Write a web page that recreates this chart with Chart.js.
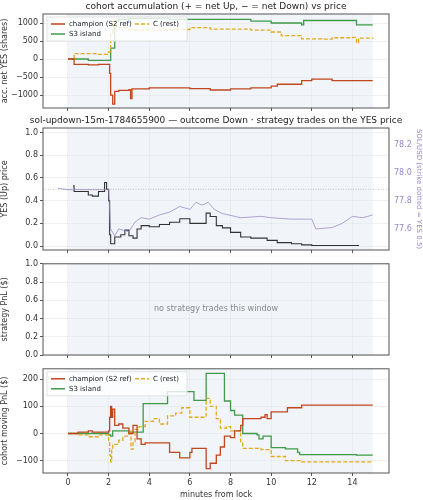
<!DOCTYPE html>
<html><head><meta charset="utf-8">
<script src="https://cdn.jsdelivr.net/npm/chart.js@4/dist/chart.umd.min.js"></script>
<style>
body{margin:0;background:#fff;width:423px;height:500px;position:relative;overflow:hidden}
canvas{position:absolute;left:0}
</style></head><body>
<canvas id="c1" style="top:0"></canvas>
<canvas id="c2" style="top:112px"></canvas>
<canvas id="c3" style="top:257px"></canvas>
<canvas id="c4" style="top:362px"></canvas>
<script>
// datos
const xTicks = [0, 2, 4, 6, 8, 10, 12, 14];

// acumulación (acciones YES netas)
const accChampT = [0, 0.3, 1.0, 1.5, 2.0, 2.05, 2.1, 2.2, 2.3, 2.5, 3.0, 3.08, 3.15, 4, 6, 7, 8, 9, 10, 10.3, 11.5, 12, 13, 15];
const accChampV = [0, -150, -160, -150, -150, -400, -1000, -1250, -900, -870, -850, -1100, -830, -800, -820, -860, -830, -800, -750, -700, -600, -560, -600, -600];
const accCT = [0, 0.3, 1.5, 2.0, 2.1, 2.2, 2.3, 2.5, 3, 5, 6, 7, 9, 10, 10.5, 11.5, 12.5, 13, 14, 14.2, 14.3, 15];
const accCV = [0, 150, 130, 200, 700, 1050, 900, 870, 800, 820, 870, 830, 800, 750, 650, 560, 550, 590, 600, 450, 580, 600];
const accS3T = [0, 1, 2.0, 2.1, 2.3, 2.5, 3, 5, 9, 10, 11.5, 11.6, 14, 14.2, 15];
const accS3V = [0, -40, -40, 300, 1050, 1100, 1130, 1100, 1050, 1000, 950, 1070, 1070, 950, 950];

// precio YES y SOL/USD
const yesT = [0.25, 0.3, 1.0, 1.2, 1.5, 1.8, 1.9, 2.0, 2.05, 2.1, 2.3, 2.6, 2.8, 3.0, 3.2, 3.4, 3.6, 4.0, 4.5, 5.0, 5.5, 6.0, 6.8, 7.0, 7.3, 7.6, 8.0, 8.5, 9.0, 9.8, 10.3, 11, 11.5, 12, 14.3];
const yesV = [0.53, 0.48, 0.45, 0.44, 0.48, 0.56, 0.50, 0.40, 0.10, 0.02, 0.08, 0.10, 0.14, 0.09, 0.07, 0.15, 0.18, 0.17, 0.19, 0.21, 0.24, 0.20, 0.29, 0.26, 0.18, 0.16, 0.12, 0.08, 0.07, 0.05, 0.03, 0.02, 0.01, 0.005, 0.0];
const solT = [-0.5, 0, 1, 2, 2.1, 2.3, 2.5, 3, 3.3, 3.6, 4, 4.5, 5.0, 5.5, 6.0, 6.3, 6.6, 6.9, 7.2, 7.6, 8.5, 9.5, 10, 11, 12, 12.2, 13, 13.5, 14, 14.5, 15];
const solV = [77.89, 77.88, 77.88, 77.88, 77.60, 77.55, 77.60, 77.58, 77.65, 77.68, 77.67, 77.70, 77.72, 77.76, 77.74, 77.79, 77.77, 77.79, 77.74, 77.71, 77.68, 77.69, 77.68, 77.67, 77.67, 77.60, 77.61, 77.64, 77.69, 77.68, 77.70];

// PnL móvil por cohorte
const pnlChampT = [0, 0.5, 1, 1.2, 2.0, 2.05, 2.1, 2.15, 2.2, 2.3, 2.5, 2.7, 3, 3.2, 3.4, 3.6, 3.8, 5, 5.5, 6, 6.1, 6.8, 7, 7.3, 7.5, 7.7, 8, 8.2, 8.5, 8.6, 9.5, 9.7, 9.8, 10, 10.8, 11.5, 15];
const pnlChampV = [0, 5, 10, 5, 10, 60, 100, 60, 90, 30, 35, 20, 0, 30, -20, -40, -35, -70, -90, -70, -55, -130, -110, -80, -50, -10, -15, 10, 30, 55, 60, 70, 55, 80, 95, 105, 105];
const pnlS3T = [0, 2, 2.1, 2.2, 3, 3.7, 4.9, 6.2, 6.8, 7.7, 8, 8.2, 8.6, 9.3, 9.4, 9.6, 10, 10.7, 11.3, 11.4, 14, 14.2, 15];
const pnlS3V = [0, -5, -10, 10, 5, 110, 155, 122, 222, 120, 85, 68, 0, -5, -20, -10, -52, -57, -70, -78, -78, -80, -80];
const pnlCT = [0, 0.5, 1, 1.5, 2, 2.05, 2.1, 2.15, 2.2, 2.5, 2.7, 3, 3.1, 3.2, 3.3, 3.5, 3.8, 4.2, 4.5, 4.9, 5.3, 5.6, 6.0, 6.8, 7.0, 7.3, 7.5, 7.8, 8.0, 8.5, 8.6, 9.5, 10, 10.7, 11.5, 15];
const pnlCV = [0, -5, -12, -5, -30, -80, -105, -60, -40, -25, -10, 10, -58, -30, 15, 25, 45, 55, 35, 65, 75, 95, 60, 130, 100, 55, 20, 25, 10, -30, -55, -60, -85, -100, -105, -105];

const RED = '#c0461e', GREEN = '#3f9a4a', GOLD = '#e3aa1c', PURPLE = '#9a86c8';
const FONT = 'DejaVu Sans';
Chart.defaults.font.family = FONT;
Chart.defaults.font.size = 8;
Chart.defaults.color = '#333';
Chart.defaults.animation = false;

const pts = (t, v) => t.map((x, i) => ({ x: x, y: v[i] }));

// fondo sombreado 0..15 y marco
const framePlugin = {
  id: 'frame',
  beforeDatasetsDraw(chart) {
    const { ctx, chartArea: a, scales: { x } } = chart;
    ctx.save();
    ctx.fillStyle = 'rgba(225,230,242,0.45)';
    const x0 = x.getPixelForValue(0), x1 = x.getPixelForValue(15);
    ctx.fillRect(x0, a.top, x1 - x0, a.bottom - a.top);
    ctx.restore();
  },
  afterDraw(chart) {
    const { ctx, chartArea: a } = chart;
    ctx.save();
    ctx.strokeStyle = '#555';
    ctx.lineWidth = 1;
    ctx.strokeRect(a.left, a.top, a.right - a.left, a.bottom - a.top);
    const o = chart.options.plugins.extra || {};
    if (o.title) {
      ctx.fillStyle = '#222';
      ctx.font = (o.titleSize || 9) + 'px ' + FONT;
      ctx.textAlign = 'center';
      ctx.textBaseline = 'middle';
      ctx.fillText(o.title, o.titleX || (a.left + a.right) / 2, o.titleY);
    }
    if (o.note) {
      ctx.fillStyle = '#888';
      ctx.font = '8px ' + FONT;
      ctx.textAlign = 'center';
      ctx.textBaseline = 'middle';
      ctx.fillText(o.note, (a.left + a.right) / 2, (a.top + a.bottom) / 2);
    }
    if (o.legend) {
      const L = a.left + 4, T = a.top + 3;
      ctx.fillStyle = 'rgba(255,255,255,0.8)';
      ctx.fillRect(L, T, 140, 24);
      ctx.strokeStyle = '#e2e2e2';
      ctx.strokeRect(L, T, 140, 24);
      const items = [
        ['champion (S2 ref)', RED, [], L + 4, T + 7],
        ['C (rest)', GOLD, [4, 2], L + 88, T + 7],
        ['S3 island', GREEN, [], L + 4, T + 17]
      ];
      ctx.font = '7px ' + FONT;
      ctx.textAlign = 'left';
      ctx.textBaseline = 'middle';
      items.forEach(([lbl, col, dash, x, y]) => {
        ctx.strokeStyle = col;
        ctx.lineWidth = 1.5;
        ctx.setLineDash(dash);
        ctx.beginPath(); ctx.moveTo(x, y); ctx.lineTo(x + 14, y); ctx.stroke();
        ctx.setLineDash([]);
        ctx.fillStyle = '#222';
        ctx.fillText(lbl, x + 18, y);
      });
    }
    ctx.restore();
  }
};

const series = (t, v, col, dash, axis) => ({
  data: pts(t, v), borderColor: col, borderWidth: 1.3, borderDash: dash || [],
  stepped: 'before', pointRadius: 0, yAxisID: axis || 'y'
});

function build(id, h, cfg) {
  const cv = document.getElementById(id);
  cv.width = 423; cv.height = h;
  cv.style.width = '423px'; cv.style.height = h + 'px';
  const scales = {
    x: {
      type: 'linear', min: -1.23, max: 15.8,
      afterBuildTicks: s => { s.ticks = xTicks.map(v => ({ value: v })); },
      afterFit: s => { s.height = cfg.xh; },
      grid: { color: 'rgba(0,0,0,0.06)', tickLength: 3, tickColor: '#555' },
      ticks: { display: !!cfg.xLabels, padding: 2, color: '#333' },
      title: { display: !!cfg.xLabels, text: 'minutes from lock', padding: 0, font: { size: 8 } },
      border: { display: false }
    },
    y: {
      min: cfg.ymin, max: cfg.ymax,
      afterFit: s => { s.width = 43; },
      afterBuildTicks: s => { s.ticks = cfg.yTicks.map(v => ({ value: v })); },
      grid: { color: 'rgba(0,0,0,0.06)', tickLength: 3, tickColor: '#555' },
      ticks: { padding: 2, callback: cfg.yFmt || (v => v), color: '#333' },
      title: { display: true, text: cfg.yTitle, padding: 0, font: { size: 8 } },
      border: { display: false }
    }
  };
  if (cfg.y2) scales.y2 = cfg.y2;
  new Chart(cv, {
    type: 'line',
    data: { datasets: cfg.datasets },
    options: {
      responsive: false, maintainAspectRatio: false,
      layout: { padding: { top: cfg.top, right: cfg.y2 ? 0 : 34, left: 0, bottom: 0 } },
      plugins: { legend: { display: false }, tooltip: { enabled: false }, extra: cfg.extra },
      scales: scales
    },
    plugins: [framePlugin]
  });
}

const minus = v => (v < 0 ? '\u2212' + Math.abs(v) : '' + v);

build('c1', 120, {
  top: 14, xh: 12, ymin: -1360, ymax: 1250, yTicks: [-1000, -500, 0, 500, 1000], yFmt: minus,
  yTitle: 'acc. net YES (shares)',
  extra: { title: 'cohort accumulation (+ = net Up, \u2212 = net Down) vs price', titleY: 7, titleX: 216, legend: true },
  datasets: [
    series(accChampT, accChampV, RED),
    series(accCT, accCV, GOLD, [4, 2]),
    series(accS3T, accS3V, GREEN)
  ]
});

build('c2', 145, {
  top: 16, xh: 7, ymin: -0.035, ymax: 1.04, yTicks: [0, 0.2, 0.4, 0.6, 0.8, 1.0], yFmt: v => v.toFixed(1),
  yTitle: 'YES (Up) price',
  extra: { title: 'sol-updown-15m-1784655900 \u2014 outcome Down \u00b7 strategy trades on the YES price', titleY: 9, titleX: 216, titleSize: 9 },
  y2: {
    position: 'right', min: 77.45, max: 78.32,
    afterFit: s => { s.width = 34; },
    afterBuildTicks: s => { s.ticks = [77.6, 77.8, 78.0, 78.2].map(v => ({ value: v })); },
    grid: { display: false, tickLength: 3 },
    ticks: { color: PURPLE, padding: 2, callback: v => v.toFixed(1) },
    title: { display: true, text: 'SOL/USD (strike dotted = YES 0.5)', color: PURPLE, padding: 0, font: { size: 7 } },
    border: { display: false }
  },
  datasets: [
    { data: [{ x: -1.23, y: 0.5 }, { x: 15.8, y: 0.5 }], borderColor: 'rgba(120,120,120,0.5)', borderWidth: 0.8, borderDash: [1, 1.5], pointRadius: 0 },
    { data: pts(solT, solV), borderColor: 'rgba(154,134,200,0.75)', borderWidth: 1, pointRadius: 0, yAxisID: 'y2' },
    Object.assign(series(yesT, yesV, '#333'), { borderWidth: 1.1 })
  ]
});

build('c3', 105, {
  top: 3, xh: 7, ymin: 0, ymax: 1, yTicks: [0, 0.2, 0.4, 0.6, 0.8, 1.0], yFmt: v => v.toFixed(1),
  yTitle: 'strategy PnL ($)',
  extra: { note: 'no strategy trades this window' },
  datasets: []
});

build('c4', 138, {
  top: 3, xh: 27, xLabels: true, ymin: -146, ymax: 239, yTicks: [-100, 0, 100, 200], yFmt: minus,
  yTitle: 'cohort moving PnL ($)',
  extra: { legend: true },
  datasets: [
    series(pnlChampT, pnlChampV, RED),
    series(pnlCT, pnlCV, GOLD, [4, 2]),
    series(pnlS3T, pnlS3V, GREEN)
  ]
});
</script>
</body></html>
